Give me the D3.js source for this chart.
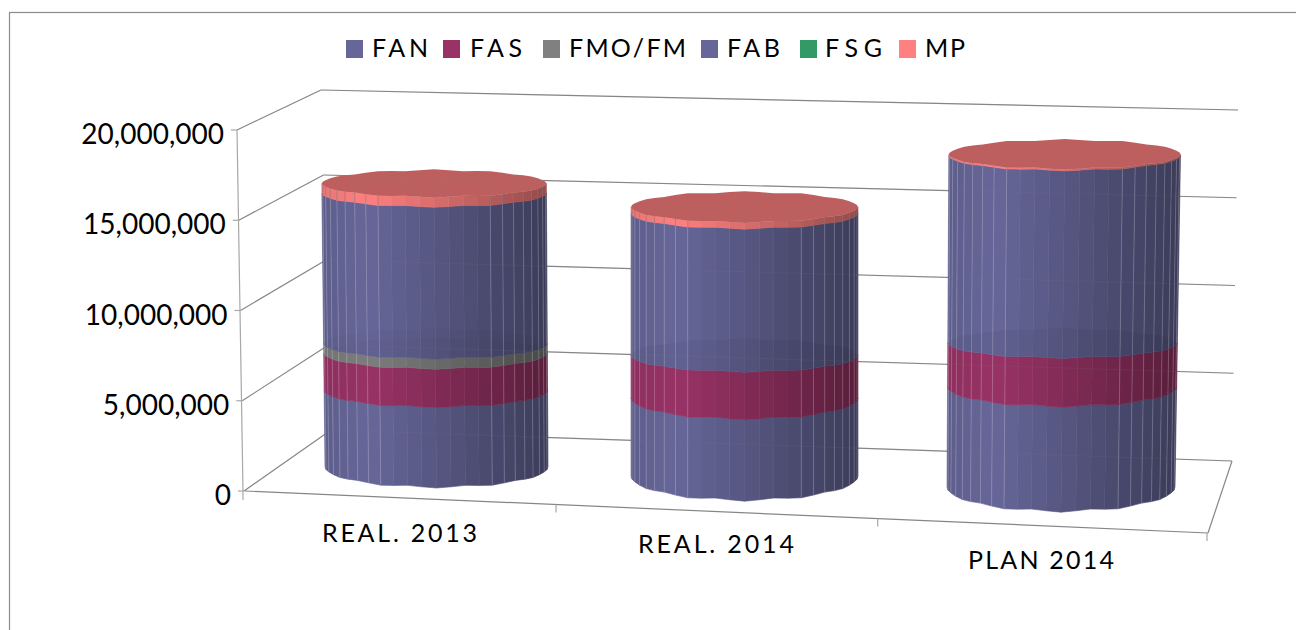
<!DOCTYPE html>
<html>
<head>
<meta charset="utf-8">
<script src="https://cdn.jsdelivr.net/npm/d3@7"></script>
<style>
	html, body { margin: 0; padding: 0; background: #fff; overflow: hidden; }
	text { font-family: Lato, "Open Sans", sans-serif; fill: #000; }
</style>
</head>
<body>
<svg id="chart" width="1296" height="630"></svg>
<script>
"use strict";

// data
const categories = ["REAL. 2013", "REAL. 2014", "PLAN 2014"];
const seriesNames = ["FAN", "FAS", "FMO/FM", "FAB", "FSG", "MP"];
const fan = [4400000, 4400000, 5500000];
const fas = [2100000, 2400000, 2400000];
const fmo = [550000, 0, 0];
const fab = [8600000, 8000000, 10300000];
const fsg = [0, 0, 0];
const mp = [550000, 350000, 80000];
const yTicks = [0, 5000000, 10000000, 15000000, 20000000];
const seriesColors = ["#666699", "#993366", "#808080", "#666699", "#339966", "#ff8080"];
const seriesValues = [fan, fas, fmo, fab, fsg, mp];

const maxValue = 20000000;

// legend layout
const legendSwatchX = [346, 443, 543, 701, 800, 899];
const legendTextX = [372, 470, 569, 727, 825, 925];
const legendTextW = [56, 52, 117, 53, 57, 40];

// layout of the slanted box
const frontY = d3.scaleLinear().domain([0, maxValue]).range([491, 130]);
const frontX = d3.scaleLinear().domain([0, maxValue]).range([244, 237]);
const backLeftY = d3.scaleLinear().domain([0, maxValue]).range([430, 90]);
const backLeftX = d3.scaleLinear().domain([0, maxValue]).range([331, 321]);
const backRightY = d3.scaleLinear().domain([0, maxValue]).range([461, 110]);
const backRightX = d3.scaleLinear().domain([0, maxValue]).range([1232, 1238]);
const floorFrontX = d3.scaleLinear().domain([0, 1]).range([245, 1208]);
const floorFrontY = d3.scaleLinear().domain([0, 1]).range([491, 533]);
const catTickPos = [0.323, 0.657];

// layout of the cylinders, one entry per category
const cylBaseY = [467, 476, 487];
const cylTopY = [117, 121, 123];
const cylLeft0 = [325, 631, 947];
const cylLeftTop = [321, 631, 949];
const cylRight0 = [548, 858, 1175];
const cylRightTop = [546, 858, 1181];
const cylRy0 = [20, 24, 24];
const cylRyTop = [13, 15.5, 14.5];

const catLabelX = [322, 638, 968];
const catLabelY = [542, 553, 569];
const catLabelW = [155, 156, 146];

const svg = d3.select("#chart");

const lineColor = "#868686";

function addLine(g, x1, y1, x2, y2, color) {
	return g
		.append("line")
		.attr("x1", x1)
		.attr("y1", y1)
		.attr("x2", x2)
		.attr("y2", y2)
		.attr("stroke", color || lineColor)
		.attr("stroke-width", 1.2);
}

// frame, only top and left show in the picture
svg
	.append("rect")
	.attr("x", 9.5)
	.attr("y", 12.5)
	.attr("width", 1400)
	.attr("height", 800)
	.attr("fill", "none")
	.attr("stroke", "#8c8c8c")
	.attr("stroke-width", 1.2);

// walls and floor
const walls = svg.append("g");

yTicks.forEach(function (t) {
	addLine(walls, frontX(t), frontY(t), backLeftX(t), backLeftY(t));
	addLine(walls, backLeftX(t), backLeftY(t), backRightX(t), backRightY(t));
	addLine(walls, frontX(t) - 6, frontY(t), frontX(t), frontY(t), "#a8a8a8");
});
addLine(walls, frontX(0) - 1, frontY(0), frontX(maxValue), frontY(maxValue), "#a8a8a8");
addLine(walls, floorFrontX(0), floorFrontY(0), floorFrontX(1), floorFrontY(1));
addLine(walls, floorFrontX(1), floorFrontY(1), backRightX(0), backRightY(0));
addLine(walls, floorFrontX(0) - 2, floorFrontY(0), floorFrontX(0) - 2, floorFrontY(0) + 9, "#a8a8a8");
addLine(walls, floorFrontX(1) - 1, floorFrontY(1), floorFrontX(1) - 1, floorFrontY(1) + 8, "#a8a8a8");
catTickPos.forEach(function (p) {
	addLine(walls, floorFrontX(p), floorFrontY(p), floorFrontX(p), floorFrontY(p) + 8, "#a8a8a8");
});

// value axis labels
svg
	.append("g")
	.selectAll("text")
	.data(yTicks)
	.enter()
	.append("text")
	.attr("x", (d) => frontX(d) - 13)
	.attr("y", (d) => frontY(d) + 14)
	.attr("text-anchor", "end")
	.attr("font-size", 28)
	.text(d3.format(","));

// light on the round face, left to right
const shade = d3
	.scaleLinear()
	.domain([-1, -0.6, 0, 1])
	.range([0.92, 1, 0.85, 0.58]);

function tint(color, f) {
	const c = d3.rgb(color);
	return d3.rgb(c.r * f, c.g * f, c.b * f).formatHex();
}

const step = 7.5;
const toRad = Math.PI / 180;

function drawCylinder(i) {
	const g = svg.append("g");
	const y = d3.scaleLinear().domain([0, maxValue]).range([cylBaseY[i], cylTopY[i]]);
	const left = d3.scaleLinear().domain([0, maxValue]).range([cylLeft0[i], cylLeftTop[i]]);
	const right = d3.scaleLinear().domain([0, maxValue]).range([cylRight0[i], cylRightTop[i]]);
	// the ellipse flattens fast in the lower third and slowly after
	const ry = d3
		.scaleLinear()
		.domain([0, 5000000, 7500000, maxValue])
		.range([cylRy0[i], cylRy0[i] - 3.5, 14.5, cylRyTop[i]]);

	// scalloped outline, the source has a rough polygon here
	function pt(v, deg) {
		const wob = 1 + 0.05 * Math.cos(12 * deg * toRad);
		const cx = (left(v) + right(v)) / 2;
		const rx = (right(v) - left(v)) / 2;
		const xx = cx + rx * Math.cos(deg * toRad);
		const yy = y(v) + ry(v) * wob * Math.sin(deg * toRad);
		return [xx, yy];
	}

	let base = 0;
	let total = 0;
	seriesValues.forEach(function (s) {
		total += s[i];
	});

	seriesValues.forEach(function (s, k) {
		const val = s[i];
		if (val <= 0) return;
		const v0 = base;
		const v1 = base + val;
		base = v1;

		for (let deg = 0; deg < 180; deg += step) {
			const mid = Math.cos((deg + step / 2) * toRad);
			const fill = tint(seriesColors[k], shade(mid));
			g.append("polygon")
				.attr(
					"points",
					[pt(v0, deg), pt(v0, deg + step), pt(v1, deg + step), pt(v1, deg)]
						.map((p) => p.join(","))
						.join(" ")
				)
				.attr("fill", fill)
				.attr("stroke", fill)
				.attr("stroke-width", 0.6);
		}

		// faint facet edges, they fade out towards the middle
		for (let deg = step; deg < 180; deg += step) {
			const c = Math.cos(deg * toRad);
			if (Math.abs(c) < 0.45) continue;
			const a = pt(v0, deg);
			const b = pt(v1, deg);
			g.append("line")
				.attr("x1", a[0])
				.attr("y1", a[1])
				.attr("x2", b[0])
				.attr("y2", b[1])
				.attr("stroke", k == 5 ? "#807070" : "#fff")
				.attr("stroke-opacity", k == 5 ? 0.5 : 0.2)
				.attr("stroke-width", 1);
		}
	});

	// rim of the lower stack shows through the next one up
	const ellipse = d3.range(0, 360, step);
	[fan[i] + fas[i], fan[i] + fas[i] + fmo[i]].forEach(function (v) {
		g.append("polygon")
			.attr(
				"points",
				ellipse.map((d) => pt(v, d).join(",")).join(" ")
			)
			.attr("fill", "#000")
			.attr("fill-opacity", 0.018);
	});

	// cap
	const topColor = seriesColors[5];
	g.append("polygon")
		.attr(
			"points",
			ellipse.map((d) => pt(total, d).join(",")).join(" ")
		)
		.attr("fill", tint(topColor, 0.745));
}

categories.forEach(function (c, i) {
	drawCylinder(i);
});

// grid shows very faintly through the cylinders
const ghost = svg.append("g").attr("opacity", 0.1);
yTicks.forEach(function (t) {
	addLine(ghost, backLeftX(t), backLeftY(t), backRightX(t), backRightY(t));
});

// category labels
svg
	.append("g")
	.selectAll("text")
	.data(categories)
	.enter()
	.append("text")
	.attr("x", (d, i) => catLabelX[i])
	.attr("y", (d, i) => catLabelY[i])
	.attr("font-size", 25)
	.attr("textLength", (d, i) => catLabelW[i])
	.attr("lengthAdjust", "spacing")
	.text((d) => d);

// legend
const legend = svg.append("g");

legend
	.selectAll("rect")
	.data(seriesNames)
	.enter()
	.append("rect")
	.attr("x", (d, i) => legendSwatchX[i])
	.attr("y", 40)
	.attr("width", 17)
	.attr("height", 18)
	.attr("fill", (d, i) => seriesColors[i]);

legend
	.selectAll("text")
	.data(seriesNames)
	.enter()
	.append("text")
	.attr("x", (d, i) => legendTextX[i])
	.attr("y", 57)
	.attr("font-size", 25)
	.attr("textLength", (d, i) => legendTextW[i])
	.attr("lengthAdjust", "spacing")
	.text((d) => d);
</script>
</body>
</html>
